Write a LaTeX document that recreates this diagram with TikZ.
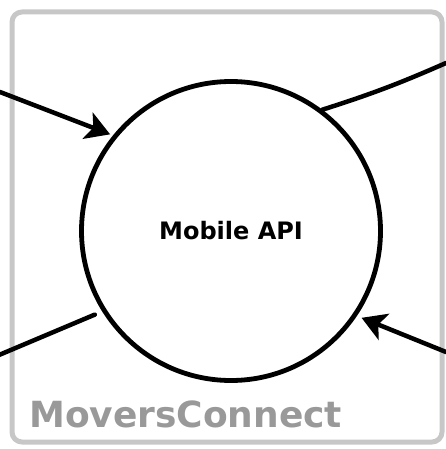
\documentclass[tikz,border=0pt]{standalone}
\usepackage{fontspec}
\setmainfont{DejaVu Sans}
\usetikzlibrary{arrows.meta}
\begin{document}
\begin{tikzpicture}[line cap=round,line join=round,>={Stealth[length=24pt,width=28pt,inset=6pt]},x=1pt,y=-1pt]
\useasboundingbox (0,0) rectangle (445,449);
\draw [line width=5pt,color=black!22,rounded corners=10pt] (12,12) rectangle (442,442);
\node [circle,draw,line width=4.8pt,minimum size=299pt,inner sep=0pt,font=\bfseries\fontsize{24}{24}\selectfont] (api) at (231,231) {Mobile API};
\node [anchor=base west,inner sep=0pt,text=black!40,font=\bfseries\fontsize{36}{36}\selectfont] (system) at (29,427) {MoversConnect};
\coordinate (userin) at (0,92);
\coordinate (partnerout) at (446,63);
\coordinate (clientout) at (-1,355);
\coordinate (partnerin) at (446,352);
\draw [->,line width=4.5pt,shorten >=3pt] (userin) -- (api.141);
\draw [line width=4.5pt] (api.53) to[bend right=3] (partnerout);
\draw [line width=4.5pt,shorten <=8pt] (api.212) -- (clientout);
\draw [->,line width=4.5pt,shorten >=5pt] (partnerin) -- (api.326);
\end{tikzpicture}
\end{document}
